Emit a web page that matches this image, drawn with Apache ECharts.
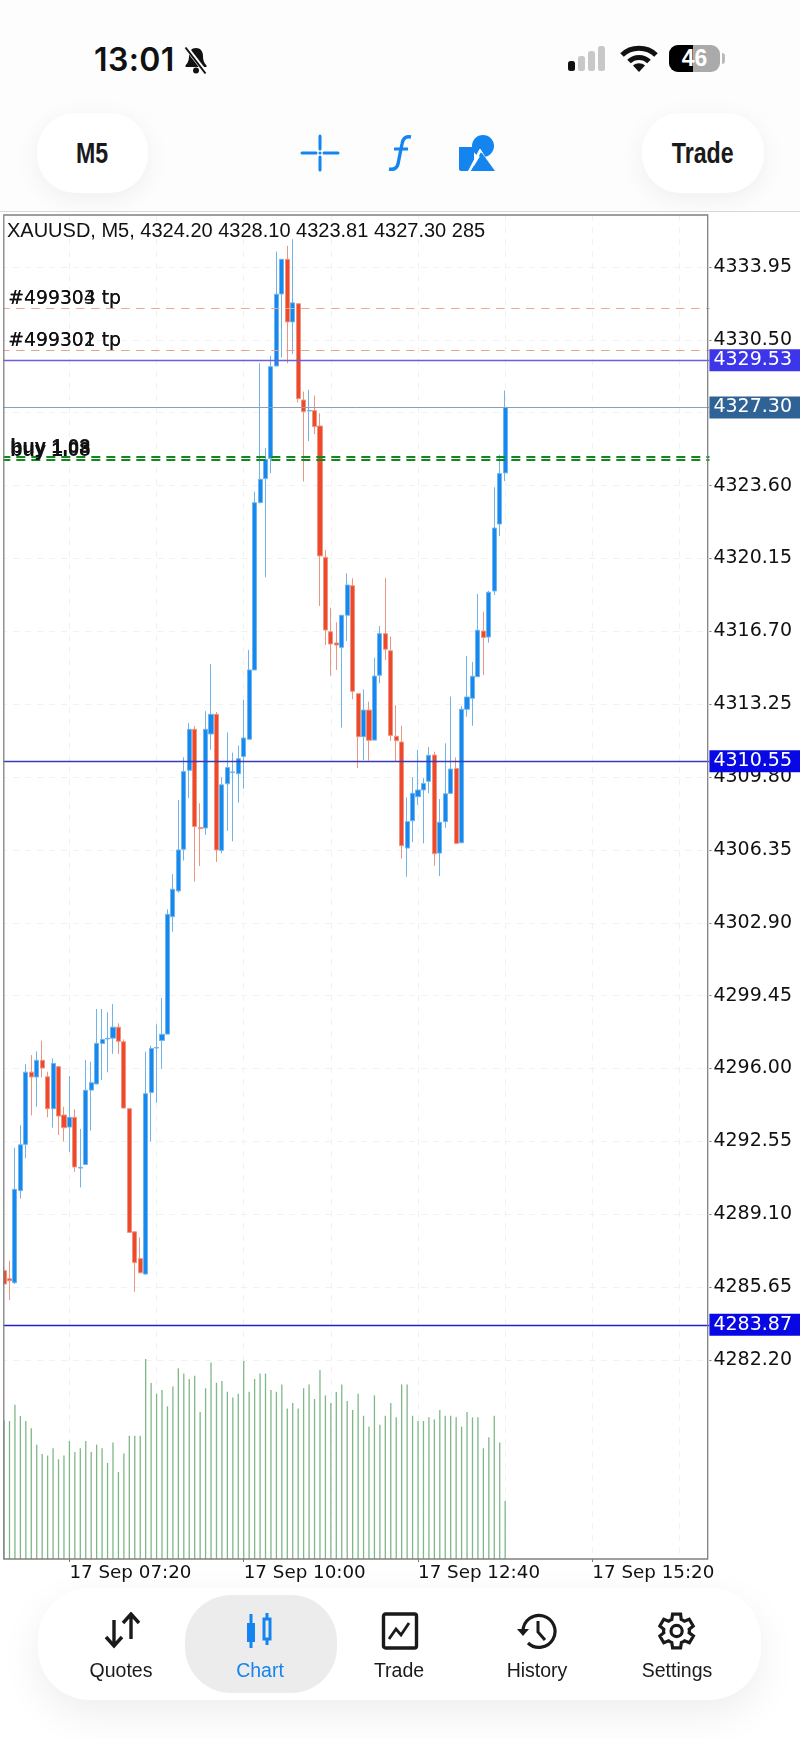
<!DOCTYPE html>
<html lang="en">
<head>
<meta charset="utf-8">
<title>XAUUSD M5</title>
<script src="https://cdn.jsdelivr.net/npm/echarts@6/dist/echarts.min.js"></script>
<style>
    html, body { margin: 0; padding: 0; background: #fff; }
    body { position: relative; width: 800px; height: 1739px; overflow: hidden; font-family: "Liberation Sans", sans-serif; color: #111; }
    #main { position: absolute; left: 0; top: 0; width: 800px; height: 1739px; }
    .top { position: absolute; left: 0; top: 0; width: 800px; height: 211px; background: #fdfdfd; border-bottom: 1px solid #d8d8d8; box-sizing: content-box; }
    .abs { position: absolute; }
    .round { position: absolute; top: 113px; height: 80px; background: #fff; border-radius: 38px; box-shadow: 0 6px 26px rgba(0,0,0,.06);
        display: flex; align-items: center; justify-content: center; font: bold 29px "Liberation Sans", sans-serif; color: #1a1a1a; }
    .round span { display: inline-block; transform: scaleX(.8); }
    .nav { position: absolute; left: 38px; top: 1588px; width: 723px; height: 112px; background: #fff; border-radius: 52px; box-shadow: 0 14px 40px rgba(0,0,0,.07); }
    .sel { position: absolute; left: 185px; top: 1595px; width: 152px; height: 98px; background: #ececec; border-radius: 46px; }
    .lbl { position: absolute; top: 1659px; width: 120px; text-align: center; font-size: 19.5px; line-height: 22px; color: #1a1a1a; }
</style>
</head>
<body>
<div id="main"></div>

<!-- status bar and toolbar -->
<div class="top">
    <div class="abs" style="left:94px;top:42px;font:600 32px/36px Inter,'Liberation Sans',sans-serif;letter-spacing:.4px;color:#111">13:01</div>
    <svg class="abs" style="left:182px;top:45px" width="28" height="30" viewBox="0 0 28 30">
        <path d="M14 3c-4.500 0-7 3.500-7 8 0 5-1.500 7-3.500 9.500v1.500h21v-1.500C22.500 18 21 16 21 11c0-4.500-2.500-8-7-8z" fill="#111"/>
        <circle cx="14" cy="25.500" r="3" fill="#111"/>
        <path d="M4 2l20 26" stroke="#fdfdfd" stroke-width="4.500"/><path d="M3.500 2.500l20 26" stroke="#111" stroke-width="2"/>
    </svg>
    <svg class="abs" style="left:566px;top:45px" width="44" height="28">
        <rect x="2" y="16" width="7" height="10" rx="2.500" fill="#111"/>
        <rect x="12" y="11" width="7" height="15" rx="2.500" fill="#c8c8c8"/>
        <rect x="22" y="6" width="7" height="20" rx="2.500" fill="#c8c8c8"/>
        <rect x="32" y="1" width="7" height="25" rx="2.500" fill="#c8c8c8"/>
    </svg>
    <svg class="abs" style="left:620px;top:45px" width="38" height="28" viewBox="0 0 38 28">
        <path d="M2 10C11 1 27 1 36 10" fill="none" stroke="#111" stroke-width="5"/>
        <path d="M9 16.500C14.500 11 23.500 11 29 16.500" fill="none" stroke="#111" stroke-width="5"/>
        <path d="M19 27l-6-6.500c3.500-3 8.500-3 12 0z" fill="#111"/>
    </svg>
    <div class="abs" style="left:669px;top:45px;width:51px;height:27px;border-radius:9px;background:#aaa;overflow:hidden">
        <div class="abs" style="left:0;top:0;width:24px;height:27px;background:#000"></div>
        <div class="abs" style="left:0;top:0;width:51px;text-align:center;font:bold 23px/27px 'Liberation Sans';color:#fff">46</div>
    </div>
    <div class="abs" style="left:722px;top:53px;width:3px;height:11px;border-radius:0 3px 3px 0;background:#bbb"></div>

    <div class="round" style="left:37px;width:111px"><span>M5</span></div>
    <div class="round" style="left:642px;width:122px"><span>Trade</span></div>

    <svg class="abs" style="left:300px;top:133px" width="40" height="40">
        <path d="M20 3v13M20 24v13M2 20h14M24 20h14" stroke="#1485ee" stroke-width="3" stroke-linecap="round"/>
        <circle cx="20" cy="20" r="1.500" fill="#1485ee"/>
    </svg>
    <svg class="abs" style="left:385px;top:134px" width="30" height="38">
        <path d="M26 3c-5-1-8 1-9 7l-4 20c-1 4-4 6-9 5" fill="none" stroke="#1485ee" stroke-width="3.400"/>
        <path d="M9 15h14" stroke="#1485ee" stroke-width="3"/>
    </svg>
    <svg class="abs" style="left:458px;top:133px" width="40" height="40">
        <circle cx="25" cy="13" r="11" fill="#1485ee"/>
        <path d="M1 14h15v24H3a2 2 0 0 1-2-2z" fill="#1485ee"/>
        <path d="M22 16l-12 23h2l11-21 11 21h2z" fill="#fff" stroke="#fff" stroke-width="1"/>
        <path d="M24 20l13 18H13z" fill="#1485ee"/>
    </svg>
</div>

<!-- bottom navigation -->
<div class="nav"></div>
<div class="sel"></div>
<svg class="abs" style="left:102px;top:1612px" width="40" height="38">
    <path d="M12 8v26M4 25l8 9 8-9M29 3v24M21 11l8-9 8 9" fill="none" stroke="#1a1a1a" stroke-width="3.400"/>
</svg>
<svg class="abs" style="left:244px;top:1612px" width="34" height="38">
    <rect x="3" y="11" width="8" height="19" fill="#1485ee"/><path d="M7 2v34" stroke="#1485ee" stroke-width="3"/>
    <rect x="20" y="7" width="6" height="20" fill="none" stroke="#1485ee" stroke-width="3"/><path d="M23 1v6M23 27v6" stroke="#1485ee" stroke-width="3"/>
</svg>
<svg class="abs" style="left:381px;top:1612px" width="38" height="38">
    <rect x="2.500" y="2" width="33" height="34" rx="2" fill="none" stroke="#1a1a1a" stroke-width="3.400"/>
    <path d="M8 27l7-10 5 6 8-12" fill="none" stroke="#1a1a1a" stroke-width="2.800"/>
</svg>
<svg class="abs" style="left:516px;top:1612px" width="42" height="38" viewBox="0 0 42 38">
    <path d="M7 19a16 16 0 1 1 5 12" fill="none" stroke="#1a1a1a" stroke-width="3.200"/>
    <path d="M1 17l6 7 6-7z" fill="#1a1a1a"/>
    <path d="M22 9v11l7 8" fill="none" stroke="#1a1a1a" stroke-width="3"/>
</svg>
<svg class="abs" style="left:658px;top:1612px" width="38" height="38" viewBox="3.500 2.500 19 19">
    <path d="M19.100 12.900c.1-.3.1-.6.100-.9s0-.6-.1-.9l2-1.600-2-3.400-2.400 1c-.5-.4-1-.7-1.600-.9L14.800 3.600h-4l-.4 2.600c-.6.200-1.100.5-1.600.9l-2.400-1-2 3.400 2 1.600c0 .3-.1.600-.1.900s0 .6.100.9l-2 1.600 2 3.400 2.400-1c.5.400 1 .7 1.600.9l.4 2.600h4l.4-2.600c.6-.2 1.100-.5 1.600-.9l2.400 1 2-3.400z" fill="none" stroke="#1a1a1a" stroke-width="1.600"/>
    <circle cx="12.800" cy="12" r="2.800" fill="none" stroke="#1a1a1a" stroke-width="1.600"/>
</svg>
<div class="lbl" style="left:61px">Quotes</div>
<div class="lbl" style="left:200px;color:#1485ee">Chart</div>
<div class="lbl" style="left:339px">Trade</div>
<div class="lbl" style="left:477px">History</div>
<div class="lbl" style="left:617px">Settings</div>

<script>
    var headerText = 'XAUUSD, M5, 4324.20 4328.10 4323.81 4327.30 285';

    // open, close, low, high
    var candles = [
        [4286.43,4285.80,4285.67,4286.62],[4286.05,4285.95,4285.04,4286.90],[4285.86,4290.28,4285.80,4292.25],[4290.22,4292.39,4289.85,4293.32],
        [4292.41,4295.83,4291.76,4296.21],[4295.83,4295.60,4293.78,4296.64],[4295.60,4296.39,4294.19,4296.81],[4296.39,4296.02,4295.58,4297.32],
        [4295.61,4294.10,4293.69,4295.85],[4294.10,4296.24,4293.20,4296.48],[4296.09,4293.75,4292.85,4296.12],[4293.80,4293.20,4292.55,4294.19],
        [4293.23,4293.69,4292.05,4295.64],[4293.69,4291.34,4291.11,4294.07],[4291.29,4291.32,4290.37,4293.14],[4291.46,4294.97,4291.46,4296.40],
        [4294.98,4295.33,4293.06,4296.32],[4295.27,4297.19,4295.27,4298.82],[4297.19,4297.38,4295.46,4298.82],[4297.40,4297.43,4295.82,4298.66],
        [4297.44,4297.96,4296.70,4299.05],[4297.96,4297.29,4296.69,4298.14],[4297.27,4294.13,4294.11,4297.38],[4294.10,4288.24,4288.24,4294.10],
        [4288.27,4286.81,4285.43,4288.27],[4287.00,4286.33,4286.30,4288.01],[4286.27,4294.81,4286.24,4296.80],[4294.87,4296.95,4292.54,4297.08],
        [4296.97,4297.00,4294.38,4298.09],[4297.33,4297.62,4295.99,4299.34],[4297.63,4303.30,4297.63,4303.54],[4303.19,4304.49,4302.48,4305.21],
        [4304.41,4306.35,4304.33,4308.72],[4306.38,4310.06,4305.85,4310.74],[4310.12,4312.06,4308.80,4312.35],[4312.06,4307.46,4304.85,4312.22],
        [4307.41,4307.36,4305.59,4308.56],[4307.39,4312.06,4307.06,4312.92],[4311.84,4312.77,4311.09,4315.16],[4312.77,4306.35,4305.78,4312.88],
        [4306.33,4309.43,4306.19,4309.79],[4309.48,4310.25,4307.25,4311.91],[4310.01,4310.04,4306.76,4310.96],[4309.96,4310.67,4308.59,4311.29],
        [4310.77,4311.65,4309.25,4313.45],[4311.59,4314.87,4311.59,4315.82],[4314.87,4322.79,4314.87,4323.31],[4322.79,4323.90,4322.76,4329.39],
        [4323.93,4324.84,4319.26,4325.37],[4324.89,4329.23,4324.18,4329.75],[4329.26,4332.66,4329.26,4334.68],[4332.67,4334.31,4329.66,4334.31],
        [4334.31,4331.35,4329.39,4334.95],[4331.35,4332.25,4329.83,4335.26],[4332.21,4327.72,4327.53,4332.21],[4327.65,4327.10,4323.79,4328.05],
        [4327.13,4327.16,4325.71,4328.13],[4327.15,4326.39,4326.03,4327.86],[4326.42,4320.27,4317.90,4327.02],[4320.20,4316.76,4316.05,4320.55],
        [4316.68,4316.10,4314.60,4317.82],[4316.15,4316.05,4314.87,4317.13],[4315.94,4317.46,4312.14,4317.46],[4317.46,4318.89,4316.24,4319.45],
        [4318.86,4313.86,4313.48,4319.21],[4313.75,4311.71,4310.23,4313.75],[4311.71,4312.97,4310.61,4313.95],[4312.97,4311.54,4310.58,4313.37],
        [4311.55,4314.58,4311.55,4315.45],[4314.62,4316.59,4314.24,4316.95],[4316.59,4315.85,4315.34,4319.22],[4315.78,4311.77,4311.52,4316.45],
        [4311.73,4311.52,4310.54,4313.20],[4311.46,4306.55,4305.94,4312.23],[4306.44,4307.69,4305.08,4308.84],[4307.73,4309.03,4306.72,4309.79],
        [4308.87,4309.19,4308.49,4311.08],[4309.19,4309.50,4306.66,4309.75],[4309.60,4310.83,4309.03,4311.22],[4310.84,4306.17,4305.60,4311.00],
        [4306.20,4307.66,4305.11,4308.76],[4307.69,4309.01,4307.40,4311.40],[4309.03,4310.18,4309.00,4313.61],[4310.21,4306.66,4306.63,4310.73],
        [4306.69,4313.01,4306.66,4313.16],[4313.01,4313.59,4312.66,4315.53],[4313.53,4314.57,4312.23,4315.25],[4314.55,4316.75,4314.55,4318.47],
        [4316.71,4316.41,4314.63,4317.63],[4316.43,4318.55,4316.16,4318.62],[4318.61,4321.59,4318.42,4323.52],[4321.78,4324.17,4321.21,4325.05],
        [4324.20,4327.30,4323.81,4328.10]
    ];

    var volumes = [
        680,678,758,703,678,642,562,516,508,544,490,508,580,526,544,580,526,562,544,472,572,428,518,606,606,606,
        983,865,812,830,750,848,937,911,885,901,722,839,965,866,875,822,794,812,973,822,885,911,911,830,822,857,
        740,767,740,839,857,786,929,804,767,821,857,776,732,812,704,650,804,660,704,767,696,857,857,704,678,678,
        696,686,732,704,704,696,650,722,696,696,544,598,704,572,285
    ];

    var priceTicks = [4333.95,4330.50,4327.05,4323.60,4320.15,4316.70,4313.25,4309.80,4306.35,4302.90,4299.45,4296.00,4292.55,4289.10,4285.65,4282.20];

    var timeTickIndexes = [12, 44, 76, 108];
    var timeTickLabels = ['17 Sep 07:20', '17 Sep 10:00', '17 Sep 12:40', '17 Sep 15:20'];

    // order lines with their text on the left
    var orderNames = ['#499304 tp', '#499303 tp', '#499302 tp', '#499301 tp', 'buy 1.03', 'buy 1.08'];
    var orderPrices = [4332.00, 4332.00, 4330.00, 4330.00, 4324.96, 4324.82];
    var orderColors = ['#e8ab8e', '#e8ab8e', '#dca895', '#dca895', '#13881f', '#13881f'];

    // level lines with a price tag on the right
    var levelPrices = [4329.53, 4327.30, 4310.55, 4283.87];
    var levelLineColors = ['#6a5ee0', '#8ba0b6', '#3b3ab5', '#2222cc'];
    var levelLineWidths = [1.3, 1, 1.3, 1.3];
    var levelTagColors = ['#3d35ea', '#2f6396', '#0808e4', '#0808e4'];

    // 130 five minute slots from 06:20, the right part of the axis stays empty
    var categories = [];
    for (var i = 0; i < 130; i++) {
        var m = 6 * 60 + 20 + i * 5;
        categories.push(String(Math.floor(m / 60)).padStart(2, '0') + ':' + String(m % 60).padStart(2, '0'));
    }

    var gridLeft = 1.32, gridTop = 215, gridHeight = 1344, slotWidth = 5.447;
    var AXIS_FONT = '"DejaVu Sans"';

    function isTimeTick(index) {
        return timeTickIndexes.indexOf(index) >= 0;
    }

    var orderLines = orderNames.map(function (name, k) {
        var isBuy = name.indexOf('buy') === 0;
        return {
            yAxis: orderPrices[k],
            lineStyle: { color: orderColors[k], width: isBuy ? 2 : 1.2, type: isBuy ? [9, 6] : [8, 7] },
            label: {
                show: true,
                position: 'insideStartTop',
                distance: [isBuy ? 9 : 7, isBuy ? -1 : 0],
                formatter: name,
                color: '#111',
                fontFamily: isBuy ? '"Liberation Sans"' : AXIS_FONT,
                fontWeight: isBuy ? 'bold' : 'normal',
                fontSize: isBuy ? 20 : 18.8
            }
        };
    });

    var levelLines = levelPrices.map(function (price, k) {
        return {
            yAxis: price,
            lineStyle: { color: levelLineColors[k], width: levelLineWidths[k], type: 'solid' },
            label: {
                show: true,
                position: 'end',
                distance: 0,
                formatter: price.toFixed(2),
                color: '#fff',
                fontFamily: AXIS_FONT,
                fontSize: 19,
                backgroundColor: levelTagColors[k],
                padding: [3, 8, 1, 4],
                lineHeight: 18
            }
        };
    });

    var myChart = echarts.init(document.getElementById('main'));

    var option = {
        animation: false,
        backgroundColor: 'transparent',
        title: {
            text: headerText,
            left: 2,
            top: 216,
            textStyle: { fontFamily: '"Liberation Sans"', fontSize: 20, fontWeight: 'normal', color: '#111' }
        },
        grid: { left: gridLeft, top: gridTop, width: slotWidth * categories.length, height: gridHeight, containLabel: false },
        xAxis: {
            type: 'category',
            data: categories,
            boundaryGap: true,
            axisLine: { show: false },
            axisTick: { show: true, alignWithLabel: true, interval: function (index) { return isTimeTick(index); }, length: 3, lineStyle: { color: '#777' } },
            axisLabel: {
                interval: function (index) { return isTimeTick(index); },
                formatter: function (value, index) { return timeTickLabels[timeTickIndexes.indexOf(index)]; },
                align: 'left',
                margin: 5,
                fontFamily: AXIS_FONT,
                fontSize: 18.3,
                color: '#111',
                hideOverlap: false
            },
            splitLine: {
                show: true,
                alignWithLabel: true,
                interval: function (index) { return index >= 12 && (index - 12) % 16 === 0; },
                lineStyle: { color: '#f1f1f1', type: [6, 6] }
            }
        },
        yAxis: [
            {
                type: 'value',
                position: 'right',
                min: 4272.78,
                max: 4336.41,
                axisLine: { show: false },
                axisTick: { show: true, length: 2, customValues: priceTicks, lineStyle: { color: '#777' } },
                axisLabel: {
                    customValues: priceTicks,
                    margin: 4,
                    padding: [3, 0, 0, 0],
                    formatter: function (v) { return v.toFixed(2); },
                    fontFamily: AXIS_FONT,
                    fontSize: 19,
                    color: '#111'
                },
                splitLine: { show: true, lineStyle: { color: '#f1f1f1', type: [6, 6] } }
            },
            { type: 'value', min: 0, max: 6604, show: false, splitLine: { show: false } }
        ],
        series: [
            {
                type: 'bar',
                yAxisIndex: 1,
                data: volumes,
                barWidth: 1.3,
                itemStyle: { color: '#7fb787' },
                silent: true
            },
            {
                type: 'candlestick',
                yAxisIndex: 0,
                data: candles,
                barWidth: 4.6,
                itemStyle: {
                    color: '#1489f2',
                    color0: '#f2482a',
                    borderColor: '#72b3ea',
                    borderColor0: '#eb9685',
                    borderWidth: 1
                },
                markLine: {
                    silent: true,
                    symbol: 'none',
                    animation: false,
                    data: orderLines.concat(levelLines)
                }
            }
        ],
        graphic: [
            { type: 'rect', z: 50, silent: true, shape: { x: 0, y: gridTop - 2, width: 3.2, height: gridHeight + 6 }, style: { fill: '#fff' } },
            { type: 'rect', z: 51, silent: true, shape: { x: 3.8, y: gridTop, width: 703.9, height: gridHeight }, style: { fill: 'none', stroke: '#808080', lineWidth: 1.3 } }
        ]
    };

    myChart.setOption(option);
</script>
</body>
</html>
